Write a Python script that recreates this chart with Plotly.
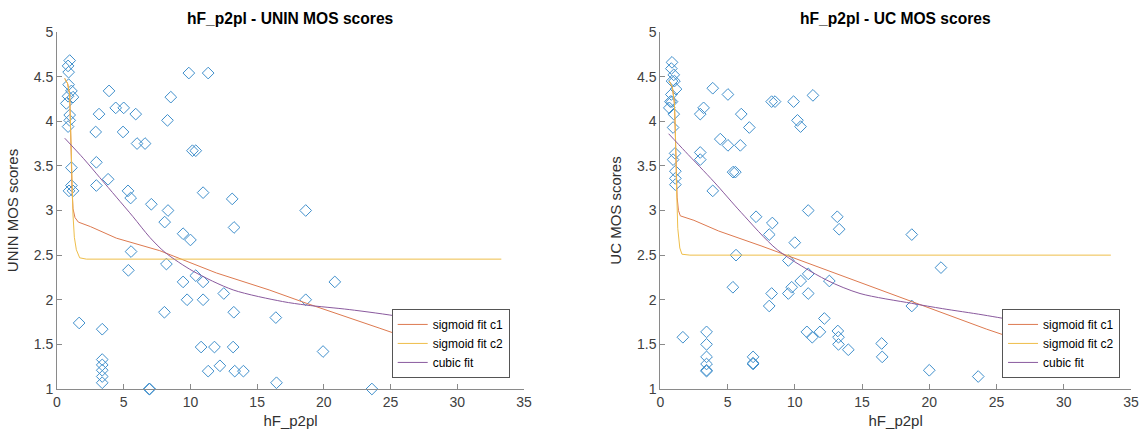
import plotly.graph_objects as go
from plotly.subplots import make_subplots

# ---------------- data: left panel (UNIN) ----------------
unin_x = [0.95, 0.83, 0.87, 0.87, 1.08, 0.83, 1.2, 0.7, 0.95, 0.95, 0.83, 1.08, 1.08, 0.9, 1.2,
          2.9, 3.15, 3.9, 2.95, 2.95, 3.83, 4.4, 5.0, 4.95, 5.9, 6.0, 6.6, 5.32, 5.52, 7.07,
          8.28, 8.53, 9.88, 11.33, 10.15, 10.4, 10.95, 13.13, 8.32,
          8.07, 9.45, 10.0, 13.27, 5.55, 5.35, 8.2, 9.45, 10.4, 10.95, 9.75, 10.95, 12.5,
          8.05, 13.25, 16.4, 1.66, 3.39, 3.39, 3.39, 3.39, 3.39, 3.39, 6.9, 6.95,
          10.8, 11.8, 13.2, 11.33, 12.21, 13.32, 13.97, 16.45, 18.64, 20.82, 18.64, 19.94, 23.6]
unin_y = [4.68, 4.62, 4.55, 4.41, 4.34, 4.28, 4.27, 4.2, 4.07, 4.01, 3.94, 3.48, 3.28, 3.22, 3.22,
          3.88, 4.08, 4.34, 3.54, 3.28, 3.35, 4.15, 4.15, 3.88, 4.08, 3.75, 3.75, 3.22, 3.14, 3.07,
          4.01, 4.27, 4.54, 4.54, 3.67, 3.67, 3.2, 3.13, 3.0,
          2.87, 2.74, 2.67, 2.81, 2.54, 2.33, 2.4, 2.2, 2.27, 2.2, 2.0, 2.0, 2.07,
          1.86, 1.86, 1.8, 1.74, 1.67, 1.33, 1.27, 1.21, 1.14, 1.07, 1.0, 1.0,
          1.47, 1.47, 1.47, 1.2, 1.26, 1.2, 1.2, 1.07, 3.0, 2.2, 2.0, 1.42, 1.0]

unin_c1_x = [0.58, 0.8, 0.95, 1.02, 1.07, 1.12, 1.2, 1.35, 1.6, 2.5, 4.45, 7.7, 11.95, 15.9, 18.7, 24.2, 33.5]
unin_c1_y = [4.48, 4.42, 4.3, 4.0, 3.6, 3.25, 3.02, 2.92, 2.87, 2.82, 2.69, 2.55, 2.3, 2.11, 1.96, 1.68, 1.2]
unin_c2_x = [0.58, 0.8, 0.95, 1.02, 1.1, 1.2, 1.3, 1.45, 1.7, 2.2, 33.3]
unin_c2_y = [4.48, 4.42, 4.3, 4.0, 3.5, 2.95, 2.7, 2.56, 2.47, 2.455, 2.455]
unin_cub_x = [0.58, 2.0, 3.2, 4.45, 5.7, 6.95, 8.1, 10.2, 13.2, 16.9, 18.7, 21.9, 25.7, 27.6, 30.5, 33.5]
unin_cub_y = [3.81, 3.58, 3.37, 3.15, 2.93, 2.7, 2.53, 2.32, 2.11, 1.98, 1.94, 1.89, 1.81, 1.74, 1.62, 1.45]

# ---------------- data: right panel (UC) ----------------
uc_x = [0.87, 0.82, 1.0, 0.87, 1.05, 1.17, 0.82, 0.87, 0.75, 0.67, 1.0, 0.95, 1.1, 0.95, 1.12, 1.12, 1.12,
        3.9, 5.03, 3.22, 2.97, 6.02, 6.62, 4.46, 5.03, 5.95, 2.97, 2.97, 5.41, 5.58, 3.9, 7.12, 5.63,
        8.28, 8.53, 9.91, 10.2, 10.43, 11.35,
        8.33, 8.1, 11.0, 13.16, 13.3, 10.0, 18.7, 9.52, 11.0, 10.44, 12.57, 20.87, 8.28, 9.77, 9.52,
        11.0, 8.1, 18.7, 12.2, 10.9, 11.3, 11.87, 13.2, 13.25, 13.25, 13.98, 16.46, 16.5, 20.0, 23.64,
        5.4, 1.68, 3.44, 3.44, 3.44, 3.44, 3.44, 3.44, 6.9, 6.9, 6.9]
uc_y = [4.66, 4.59, 4.52, 4.45, 4.45, 4.36, 4.3, 4.22, 4.22, 4.15, 4.08, 3.93, 3.64, 3.57, 3.44, 3.36, 3.29,
        4.37, 4.3, 4.15, 4.08, 4.08, 3.93, 3.8, 3.73, 3.73, 3.65, 3.57, 3.43, 3.43, 3.22, 2.93, 2.5,
        4.22, 4.22, 4.22, 4.01, 3.94, 4.29,
        2.86, 2.73, 3.0, 2.93, 2.79, 2.64, 2.73, 2.44, 2.29, 2.21, 2.21, 2.36, 2.07, 2.14, 2.07,
        2.07, 1.93, 1.93, 1.79, 1.64, 1.58, 1.64, 1.65, 1.58, 1.5, 1.44, 1.51, 1.36, 1.21, 1.14,
        2.14, 1.58, 1.64, 1.5, 1.36, 1.28, 1.21, 1.2, 1.36, 1.29, 1.28]

uc_c1_x = [0.67, 0.9, 1.05, 1.12, 1.18, 1.25, 1.35, 1.49, 2.5, 4.34, 7.56, 9.52, 14.85, 18.69, 24.27, 33.5]
uc_c1_y = [4.45, 4.38, 4.2, 3.9, 3.5, 3.15, 3.0, 2.94, 2.89, 2.77, 2.6, 2.49, 2.19, 1.98, 1.67, 1.2]
uc_c2_x = [0.67, 0.9, 1.05, 1.12, 1.2, 1.3, 1.45, 1.61, 2.2, 33.5]
uc_c2_y = [4.45, 4.38, 4.2, 3.9, 3.3, 2.8, 2.58, 2.51, 2.5, 2.5]
uc_cub_x = [0.62, 1.86, 4.0, 6.0, 8.7, 12.37, 14.85, 18.69, 21.0, 24.0, 26.9, 30.0, 33.5]
uc_cub_y = [3.86, 3.66, 3.32, 2.98, 2.56, 2.22, 2.07, 1.96, 1.9, 1.83, 1.75, 1.62, 1.4]

titles = ["hF_p2pl - UNIN MOS scores", "hF_p2pl - UC MOS scores"]
ylabels = ["UNIN MOS scores", "UC MOS scores"]
xlabel = "hF_p2pl"
fit_names = ["sigmoid fit c1", "sigmoid fit c2", "cubic fit"]

FONT = "Liberation Sans, Arial, sans-serif"
C_MARK = "#3f8fcc"
C_ORANGE = "#DD7A50"
C_YELLOW = "#EEBE4A"
C_PURPLE = "#8A5A9E"

W, H = 1145, 439
ML, MR, MT, MB = 57, 14, 32, 50
L_DOM = [0.0, (524.0 - 57.0) / 1074.0]
R_DOM = [(660.3 - 57.0) / 1074.0, 1.0]

fig = make_subplots(rows=1, cols=2)

panels = [
    (unin_x, unin_y, unin_c1_x, unin_c1_y, unin_c2_x, unin_c2_y, unin_cub_x, unin_cub_y, "legend"),
    (uc_x, uc_y, uc_c1_x, uc_c1_y, uc_c2_x, uc_c2_y, uc_cub_x, uc_cub_y, "legend2"),
]

for i, (px, py, c1x, c1y, c2x, c2y, cx, cy, leg) in enumerate(panels, start=1):
    fig.add_trace(go.Scatter(x=px, y=py, mode="markers", showlegend=False, cliponaxis=False,
                             marker=dict(symbol="diamond-open", size=9, color=C_MARK,
                                         line=dict(width=1, color=C_MARK))),
                  row=1, col=i)
    fig.add_trace(go.Scatter(x=c1x, y=c1y, mode="lines", name=fit_names[0], legend=leg,
                             line=dict(color=C_ORANGE, width=1)), row=1, col=i)
    fig.add_trace(go.Scatter(x=c2x, y=c2y, mode="lines", name=fit_names[1], legend=leg,
                             line=dict(color=C_YELLOW, width=1)), row=1, col=i)
    fig.add_trace(go.Scatter(x=cx, y=cy, mode="lines", name=fit_names[2], legend=leg,
                             line=dict(color=C_PURPLE, width=1, shape="spline", smoothing=0.8)),
                  row=1, col=i)

axis_common = dict(showline=True, linecolor="#8a8a8a", linewidth=1, ticks="inside",
                   ticklen=5, tickcolor="#8a8a8a", showgrid=False, zeroline=False,
                   mirror=False, tickfont=dict(family=FONT, size=14, color="#404040"),
                   title_font=dict(family=FONT, size=15, color="#303030"))

for i in (1, 2):
    fig.update_xaxes(range=[0, 35], tickvals=[0, 5, 10, 15, 20, 25, 30, 35],
                     title_text=xlabel, title_standoff=6, row=1, col=i, **axis_common)
    fig.update_yaxes(range=[1, 5], tickvals=[1, 1.5, 2, 2.5, 3, 3.5, 4, 4.5, 5],
                     ticktext=["1", "1.5", "2", "2.5", "3", "3.5", "4", "4.5", "5"],
                     title_text=ylabels[i - 1], title_standoff=11, row=1, col=i, **axis_common)

fig.update_layout(xaxis=dict(domain=L_DOM), xaxis2=dict(domain=R_DOM))

for i, t in enumerate(titles):
    dom = L_DOM if i == 0 else R_DOM
    xc = (dom[0] + dom[1]) / 2
    fig.add_annotation(text="<b>" + t + "</b>", x=xc, y=1.0, xref="paper", yref="paper",
                       xanchor="center", yanchor="bottom", yshift=3, showarrow=False,
                       font=dict(family=FONT, size=15.6, color="#000000"))

legend_common = dict(bgcolor="white", bordercolor="#555555", borderwidth=1,
                     font=dict(family=FONT, size=12, color="#000000"),
                     xanchor="right", yanchor="bottom", tracegroupgap=0, itemwidth=30)

fig.update_layout(
    width=W, height=H,
    margin=dict(l=ML, r=MR, t=MT, b=MB, autoexpand=False),
    paper_bgcolor="white", plot_bgcolor="white",
    legend=dict(x=0.4215, y=0.031, **legend_common),
    legend2=dict(x=0.9898, y=0.031, **legend_common),
)

# remove the default 8px page margin so the figure fills the window exactly
fig.write_html("out.html", config={"displayModeBar": False},
               post_script="document.body.style.margin='0px';document.body.style.overflow='hidden';")
